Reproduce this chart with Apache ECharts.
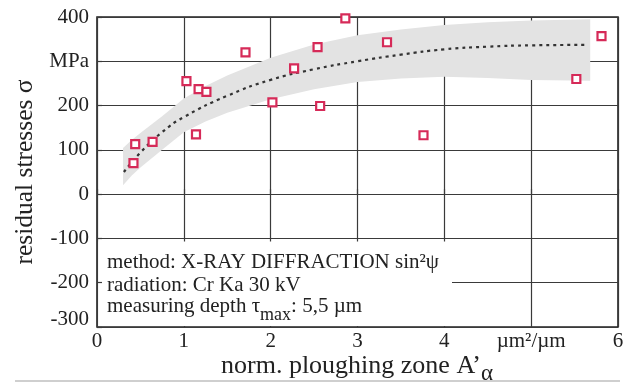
<!DOCTYPE html>
<html>
<head>
<meta charset="utf-8">
<script src="https://cdn.jsdelivr.net/npm/echarts@6/dist/echarts.min.js"></script>
<style>
  html, body { margin: 0; padding: 0; background: #fff; }
  #chart { width: 627px; height: 383px; }
</style>
</head>
<body>
<div id="chart"></div>
<script>
// measured points (x = norm. ploughing zone, y = residual stress in MPa)
const pointX = [0.42, 0.44, 0.64, 1.03, 1.14, 1.17, 1.26, 1.71, 2.02, 2.27, 2.54, 2.57, 2.86, 3.34, 3.76, 5.52, 5.81];
const pointY = [70, 113, 118, 255, 135, 237, 231, 320, 207, 284, 332, 199, 397, 343, 133, 260, 357];

// dotted trend curve
const trendX = [0.31, 0.5, 0.75, 1, 1.5, 2, 2.5, 3, 3.5, 4, 4.5, 5, 5.63];
const trendY = [50, 94, 140, 174, 222, 258, 282, 300, 315, 327, 333, 336, 337];

// grey scatter band
const bandX = [0.3, 0.4, 0.5, 0.75, 1, 1.25, 1.5, 2, 2.5, 3, 3.5, 4, 4.5, 5, 5.68];
const bandUpper = [104, 122, 138, 176, 216, 244, 268, 308, 338, 359, 372, 382, 388, 392, 395];
const bandLower = [20, 42, 60, 100, 140, 164, 184, 214, 237, 253, 261, 265, 262, 258, 256];

// tick labels
const xTickLabels = ['0', '1', '2', '3', '4', 'µm²/µm', '6'];
const yTickValues = [-300, -200, -100, 0, 100, 200, 300, 400];
const yTickLabels = ['{lift|-300}', '-200', '-100', '0', '100', '200', 'MPa', '400'];

const serif = 'Liberation Serif';
const gridColor = '#3a3a3a';

const chart = echarts.init(document.getElementById('chart'));

const option = {
  backgroundColor: '#fff',
  animation: false,
  grid: {
    left: 97, right: 9, top: 17, bottom: 56,
    show: true,
    borderColor: '#222',
    borderWidth: 1.6,
    backgroundColor: 'transparent'
  },
  xAxis: [
    {
      // grid lines only
      type: 'value', min: 0, max: 6, interval: 1, z: 0,
      axisLine: { show: false }, axisTick: { show: false }, axisLabel: { show: false },
      splitLine: { show: true, lineStyle: { color: gridColor, width: 1.2 } }
    },
    {
      // ticks + labels, drawn over the text box
      type: 'value', min: 0, max: 6, interval: 1, z: 10, position: 'bottom',
      axisLine: { show: false },
      axisTick: { show: true, inside: true, length: 5, lineStyle: { color: gridColor, width: 1.2 } },
      splitLine: { show: false },
      axisLabel: {
        fontFamily: serif, fontSize: 21, color: '#222', margin: 4,
        formatter: (v) => xTickLabels[Math.round(v)]
      }
    }
  ],
  yAxis: [
    {
      type: 'value', min: -300, max: 400, interval: 100, z: 0,
      axisLine: { show: false }, axisTick: { show: false }, axisLabel: { show: false },
      splitLine: { show: true, lineStyle: { color: gridColor, width: 1.2 } }
    },
    {
      type: 'value', min: -300, max: 400, interval: 100, z: 10, position: 'left',
      axisLine: { show: false },
      axisTick: { show: true, inside: true, length: 5, lineStyle: { color: gridColor, width: 1.2 } },
      splitLine: { show: false },
      axisLabel: {
        fontFamily: serif, fontSize: 21, color: '#222', margin: 8,
        formatter: (v) => yTickLabels[yTickValues.indexOf(v)],
        rich: { lift: { fontFamily: serif, fontSize: 21, color: '#222', padding: [0, 0, 16, 0] } }
      }
    }
  ],
  graphic: [
    // white legend box covering the lower-left grid
    {
      type: 'rect', z: 5,
      shape: { x: 98.5, y: 241.5, width: 353.5, height: 84.5 },
      style: { fill: '#fff' }
    },
    {
      type: 'text', z: 12, x: 107, y: 262,
      style: { text: 'method: X-RAY DIFFRACTION sin²ψ', font: '21px "Liberation Serif"', fill: '#222', verticalAlign: 'middle' }
    },
    {
      type: 'text', z: 12, x: 107, y: 285,
      style: { text: 'radiation: Cr Ka 30 kV', font: '21px "Liberation Serif"', fill: '#222', verticalAlign: 'middle' }
    },
    {
      type: 'text', z: 12, x: 107, y: 296,
      style: {
        text: '{n|measuring depth τ}{s|max}{n|: 5,5 µm}',
        rich: {
          n: { fontFamily: serif, fontSize: 21, lineHeight: 24, verticalAlign: 'top', fill: '#222' },
          s: { fontFamily: serif, fontSize: 18, lineHeight: 18, verticalAlign: 'top', padding: [10, 0, 0, 0], fill: '#222' }
        }
      }
    },
    // axis titles
    {
      type: 'text', z: 12, x: 25, y: 172, rotation: Math.PI / 2,
      style: {
        text: 'residual stresses σ', font: '25.5px "Liberation Serif"', fill: '#222',
        align: 'center', verticalAlign: 'middle'
      }
    },
    {
      type: 'text', z: 12, x: 357, y: 353,
      style: {
        text: '{n|norm. ploughing zone A’}{s|α}',
        align: 'center',
        rich: {
          n: { fontFamily: serif, fontSize: 26, lineHeight: 28, verticalAlign: 'top', fill: '#222' },
          s: { fontFamily: serif, fontSize: 23, lineHeight: 23, verticalAlign: 'top', padding: [9, 0, 0, 0], fill: '#222' }
        }
      }
    },
    {
      type: 'line', z: 1,
      shape: { x1: 15, y1: 381, x2: 620, y2: 381 },
      style: { stroke: '#cfcfcf', lineWidth: 2 }
    }
  ],
  series: [
    {
      type: 'custom',
      z: 1,
      xAxisIndex: 0, yAxisIndex: 0,
      data: [[bandX[0], bandLower[0]]],
      renderItem: (params, api) => {
        const pts = [];
        bandX.forEach((x, i) => pts.push(api.coord([x, bandUpper[i]])));
        for (let i = bandX.length - 1; i >= 0; i--) pts.push(api.coord([bandX[i], bandLower[i]]));
        return {
          type: 'polygon',
          shape: { points: pts },
          style: { fill: '#e3e3e3' }
        };
      }
    },
    {
      type: 'line',
      z: 3,
      xAxisIndex: 0, yAxisIndex: 0,
      data: trendX.map((x, i) => [x, trendY[i]]),
      smooth: true,
      showSymbol: false,
      lineStyle: { color: '#333', width: 2.2, type: [3, 4] }
    },
    {
      type: 'scatter',
      z: 4,
      xAxisIndex: 0, yAxisIndex: 0,
      data: pointX.map((x, i) => [x, pointY[i]]),
      symbol: 'rect',
      symbolSize: 8,
      itemStyle: { color: '#fff', borderColor: '#d62a58', borderWidth: 2.2, opacity: 1 }
    }
  ]
};

chart.setOption(option);
</script>
</body>
</html>
